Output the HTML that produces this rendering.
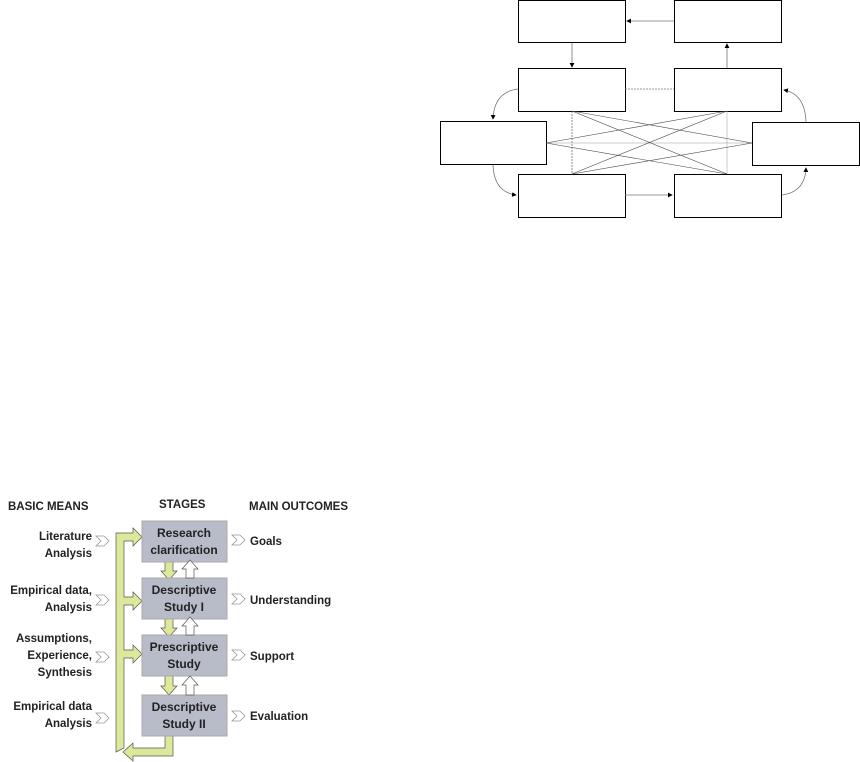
<!DOCTYPE html><html><head><style>body{margin:0;width:860px;height:762px;background:#fff;overflow:hidden}</style></head><body>
<svg width="860" height="762" xmlns="http://www.w3.org/2000/svg" style="position:absolute;left:0;top:0">
<defs><marker id="a" markerWidth="6" markerHeight="6" refX="5" refY="3" orient="auto"><path d="M0,0L6,3L0,6z" fill="#000"/></marker></defs>
<g fill="#fff" stroke="#000" stroke-width="1">
<rect x="518.5" y="0.5" width="107" height="42"/><rect x="674.5" y="0.5" width="107" height="42"/>
<rect x="518.5" y="68.5" width="107" height="43"/><rect x="674.5" y="68.5" width="107" height="43"/>
<rect x="440.5" y="121.5" width="106" height="43"/><rect x="752.5" y="122.5" width="107" height="43"/>
<rect x="518.5" y="174.5" width="107" height="43"/><rect x="674.5" y="174.5" width="107" height="43"/>
</g>
<g stroke="#777" stroke-width="0.8" fill="none">
<line x1="674" y1="21" x2="627" y2="21" marker-end="url(#a)"/>
<line x1="572" y1="43" x2="572" y2="67" marker-end="url(#a)"/>
<line x1="727" y1="68" x2="727" y2="44" marker-end="url(#a)"/>
<line x1="625" y1="195" x2="672" y2="195" marker-end="url(#a)"/>
<line x1="625" y1="89" x2="674" y2="89" stroke-dasharray="2,1"/>
<path d="M518,89 Q494,92 493,119" marker-end="url(#a)"/>
<path d="M493,165 Q494,192 516,195" marker-end="url(#a)"/>
<path d="M782,195 Q805,192 806,168" marker-end="url(#a)"/>
<path d="M806,122 Q805,94 784,90" marker-end="url(#a)"/>
<g stroke="#444" stroke-width="0.6">
<line x1="572" y1="111" x2="572" y2="174" stroke-dasharray="2,1"/><line x1="727" y1="111" x2="727" y2="174" stroke="#aaa"/>
<line x1="546" y1="143" x2="752" y2="143" stroke="#999"/>
<line x1="546" y1="143" x2="727" y2="111"/><line x1="546" y1="143" x2="727" y2="174"/>
<line x1="752" y1="143" x2="572" y2="111"/><line x1="752" y1="143" x2="572" y2="174"/>
<line x1="572" y1="111" x2="727" y2="174"/><line x1="727" y1="111" x2="572" y2="174"/>
</g></g>
<g font-family="Liberation Sans, sans-serif" font-weight="bold" font-size="11.5" fill="#222">
<text x="8" y="510">BASIC MEANS</text><text x="159" y="508">STAGES</text><text x="249" y="510">MAIN OUTCOMES</text>
<g text-anchor="end"><text x="92" y="540">Literature</text><text x="92" y="557">Analysis</text>
<text x="92" y="594">Empirical data,</text><text x="92" y="611">Analysis</text>
<text x="92" y="642">Assumptions,</text><text x="92" y="659">Experience,</text><text x="92" y="676">Synthesis</text>
<text x="92" y="710">Empirical data</text><text x="92" y="727">Analysis</text></g>
<text x="250" y="545">Goals</text><text x="250" y="604">Understanding</text><text x="250" y="660">Support</text><text x="250" y="720">Evaluation</text>
</g>
<g fill="#fff" stroke="#999" stroke-width="0.8">
<path d="M96,536h8l5,5l-5,5h-8l5,-5z"/><path d="M96,595h8l5,5l-5,5h-8l5,-5z"/><path d="M96,652h8l5,5l-5,5h-8l5,-5z"/><path d="M96,713h8l5,5l-5,5h-8l5,-5z"/>
<path d="M232,535h8l5,5l-5,5h-8l5,-5z"/><path d="M232,594h8l5,5l-5,5h-8l5,-5z"/><path d="M232,650h8l5,5l-5,5h-8l5,-5z"/><path d="M232,711h8l5,5l-5,5h-8l5,-5z"/>
</g>
<g fill="#dde89a" stroke="#555" stroke-width="0.7">
<path d="M116,752V533h17v-5l9,9l-9,9v-5h-9v56h9v-5l9,9l-9,9v-5h-9v45h9v-5l9,9l-9,9v-5h-9v90z"/>
<path d="M165,736h8v20h-40v5l-10,-9l10,-9v5h32z"/>
<path d="M165,562h8v9h4l-8,9l-8,-9h4z"/><path d="M165,619h8v9h4l-8,9l-8,-9h4z"/><path d="M165,676h8v10h4l-8,9l-8,-9h4z"/>
</g>
<g fill="#b8bcc8" stroke="#aaa"><rect x="142" y="521" width="85" height="41"/><rect x="142" y="578" width="85" height="41"/><rect x="142" y="635" width="85" height="41"/><rect x="142" y="695" width="85" height="41"/></g>
<g font-family="Liberation Sans, sans-serif" font-weight="bold" font-size="12" fill="#222" text-anchor="middle">
<text x="184" y="537">Research</text><text x="184" y="554">clarification</text>
<text x="184" y="594">Descriptive</text><text x="184" y="611">Study I</text>
<text x="184" y="651">Prescriptive</text><text x="184" y="668">Study</text>
<text x="184" y="711">Descriptive</text><text x="184" y="728">Study II</text></g>
<g fill="#fff" stroke="#555" stroke-width="0.7">
<path d="M186,578v-9h-4l8,-9l8,9h-4v9z"/><path d="M186,635v-9h-4l8,-9l8,9h-4v9z"/><path d="M186,695v-10h-4l8,-9l8,9h-4v10z"/>
</g>
</svg></body></html>
